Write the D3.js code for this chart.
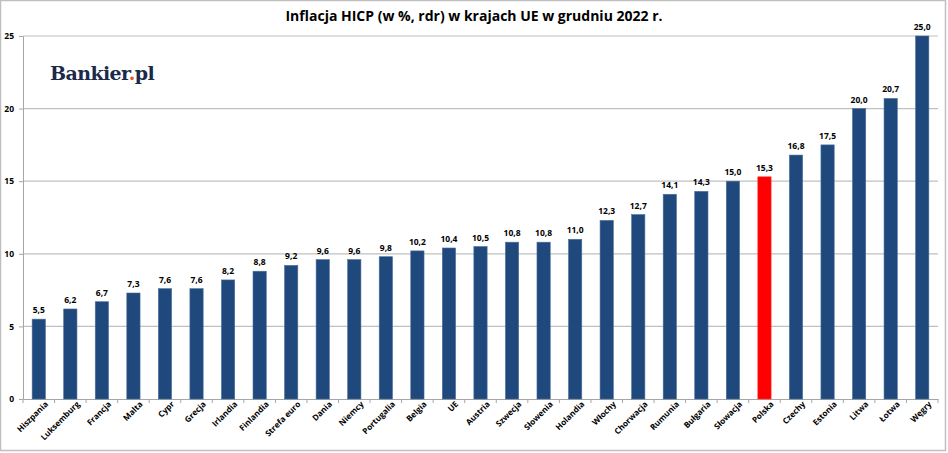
<!DOCTYPE html>
<html>
<head>
<meta charset="utf-8">
<script src="https://cdn.jsdelivr.net/npm/d3@7"></script>
<style>
  body { margin: 0; background: #fff; }
  svg { display: block; }
</style>
</head>
<body>
<script>
// Inflacja HICP, grudzień 2022
var countries = ["Hiszpania", "Luksemburg", "Francja", "Malta", "Cypr", "Grecja", "Irlandia",
  "Finlandia", "Strefa euro", "Dania", "Niemcy", "Portugalia", "Belgia", "UE", "Austria",
  "Szwecja", "Słowenia", "Holandia", "Włochy", "Chorwacja", "Rumunia", "Bułgaria", "Słowacja",
  "Polska", "Czechy", "Estonia", "Litwa", "Łotwa", "Węgry"];
var inflation = [5.5, 6.2, 6.7, 7.3, 7.6, 7.6, 8.2, 8.8, 9.2, 9.6, 9.6, 9.8, 10.2, 10.4, 10.5,
  10.8, 10.8, 11.0, 12.3, 12.7, 14.1, 14.3, 15.0, 15.3, 16.8, 17.5, 20.0, 20.7, 25.0];
var yTicks = [0, 5, 10, 15, 20, 25];
var highlight = "Polska";

function chart() {
  var W = 948, H = 453;
  var margin = { top: 36, right: 10, bottom: 54, left: 23 };
  var w = W - margin.left - margin.right;
  var h = H - margin.top - margin.bottom;

  var data = countries.map(function (c, i) { return { name: c, value: inflation[i] }; });

  var svg = d3.select("body").append("svg")
    .attr("width", W)
    .attr("height", H);

  // frame
  svg.append("rect")
    .attr("x", 0.5).attr("y", 0.5)
    .attr("width", W - 3).attr("height", H - 3)
    .attr("fill", "#fff")
    .attr("stroke", "#bfbfbf")
    .attr("stroke-width", 1.5);

  svg.append("text")
    .attr("x", W / 2)
    .attr("y", 21)
    .attr("text-anchor", "middle")
    .attr("font-family", "'Open Sans', sans-serif")
    .attr("font-weight", "bold")
    .attr("font-size", "14px")
    .attr("fill", "#000")
    .text("Inflacja HICP (w %, rdr) w krajach UE w grudniu 2022 r.");

  var g = svg.append("g")
    .attr("transform", "translate(" + margin.left + "," + margin.top + ")");

  var x = d3.scaleBand()
    .domain(countries)
    .range([0, w])
    .paddingInner(0.58)
    .paddingOuter(0.29);

  var y = d3.scaleLinear()
    .domain([0, 25])
    .range([h, 0]);

  // grid
  g.append("g")
    .selectAll("line")
    .data(yTicks.slice(1))
    .enter()
    .append("line")
    .attr("x1", 0).attr("x2", w)
    .attr("y1", function (d) { return y(d); })
    .attr("y2", function (d) { return y(d); })
    .attr("stroke", "#c0c0c0")
    .attr("stroke-width", 1.2);

  // y axis
  var yAxis = g.append("g")
    .call(d3.axisLeft(y).tickValues(yTicks).tickSize(4).tickPadding(5));
  yAxis.select(".domain").attr("stroke", "#a6a6a6");
  yAxis.selectAll(".tick line").attr("stroke", "#a6a6a6");
  yAxis.selectAll("text")
    .attr("font-family", "'Open Sans', sans-serif")
    .attr("font-weight", "bold")
    .attr("font-size", "8.5px")
    .attr("fill", "#000");

  // x axis
  var step = x.step();
  var xAxis = g.append("g")
    .attr("transform", "translate(0," + h + ")")
    .call(d3.axisBottom(x).tickSize(0).tickSizeOuter(0).tickPadding(8));
  xAxis.select(".domain").attr("stroke", "#a6a6a6");
  xAxis.selectAll(".tick line").remove();
  xAxis.selectAll(".tick text")
    .attr("font-family", "'Open Sans', sans-serif")
    .attr("font-weight", "bold")
    .attr("font-size", "8.2px")
    .attr("fill", "#000")
    .attr("text-anchor", "end")
    .attr("dx", "3px")
    .attr("dy", "3px")
    .attr("transform", "rotate(-45)");

  // category separators on x axis
  g.append("g")
    .selectAll("line")
    .data(d3.range(countries.length + 1))
    .enter()
    .append("line")
    .attr("x1", function (i) { return i * step; })
    .attr("x2", function (i) { return i * step; })
    .attr("y1", h)
    .attr("y2", h + 4)
    .attr("stroke", "#a6a6a6");

  // bars
  g.selectAll("rect.bar")
    .data(data)
    .enter()
    .append("rect")
    .attr("class", "bar")
    .attr("x", function (d) { return x(d.name); })
    .attr("y", function (d) { return y(d.value); })
    .attr("width", x.bandwidth())
    .attr("height", function (d) { return h - y(d.value); })
    .attr("fill", function (d) { return d.name === highlight ? "#ff0000" : "#1f497d"; })
    .attr("stroke", function (d) { return d.name === highlight ? "#ff3030" : "#4a6e9a"; })
    .attr("stroke-width", 0.6);

  // value labels
  g.selectAll("text.val")
    .data(data)
    .enter()
    .append("text")
    .attr("class", "val")
    .attr("x", function (d) { return x(d.name) + x.bandwidth() / 2; })
    .attr("y", function (d) { return y(d.value) - 6; })
    .attr("text-anchor", "middle")
    .attr("font-family", "'Open Sans', sans-serif")
    .attr("font-weight", "bold")
    .attr("font-size", "8.5px")
    .attr("fill", "#000")
    .text(function (d) { return d3.format(".1f")(d.value).replace(".", ","); });

  // logo
  var logo = svg.append("text")
    .attr("x", 50)
    .attr("y", 80)
    .attr("font-family", "'DejaVu Serif', serif")
    .attr("font-weight", "bold")
    .attr("font-size", "19px")
    .attr("letter-spacing", "-0.6px")
    .attr("fill", "#1b2a4a");
  logo.append("tspan").text("Bankier");
  logo.append("tspan").attr("fill", "#e8542c").text(".");
  logo.append("tspan").text("pl");
}

chart();
</script>
</body>
</html>
